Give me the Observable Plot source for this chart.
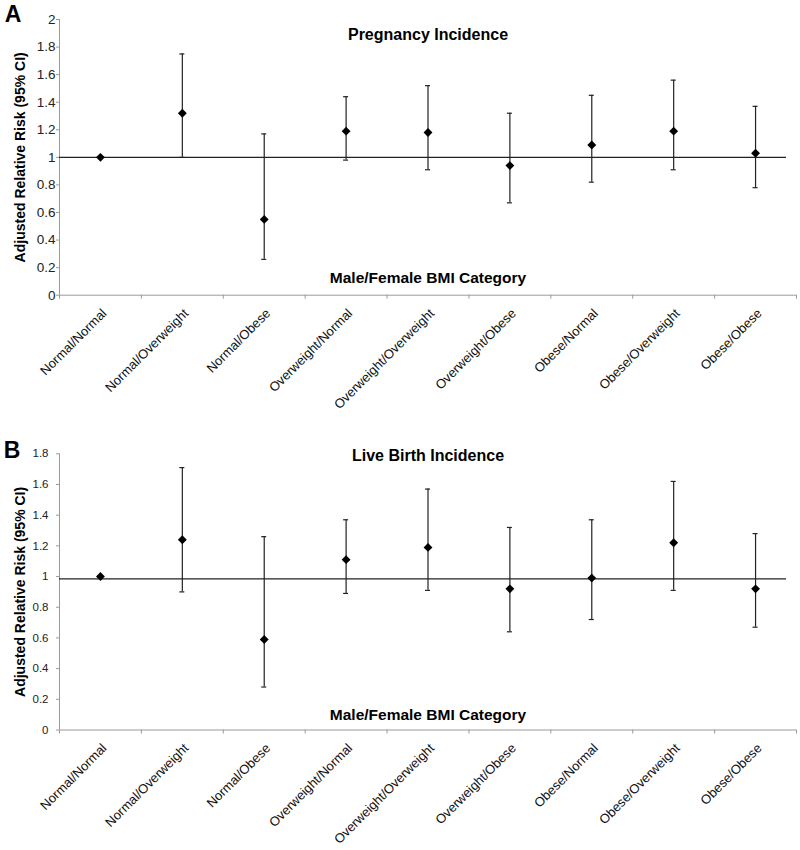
<!DOCTYPE html>
<html>
<head>
<meta charset="utf-8">
<script src="https://cdn.jsdelivr.net/npm/d3@7"></script>
<script src="https://cdn.jsdelivr.net/npm/@observablehq/plot@0.6"></script>
<style>
  html, body { margin: 0; padding: 0; background: #fff; }
  #chart svg { display: block; }
</style>
</head>
<body>
<div id="chart"></div>
<script>
// ---- data ----
const categories = [
  "Normal/Normal", "Normal/Overweight", "Normal/Obese",
  "Overweight/Normal", "Overweight/Overweight", "Overweight/Obese",
  "Obese/Normal", "Obese/Overweight", "Obese/Obese"
];
// Panel A: Pregnancy incidence
const pregRR = [1.00, 1.32, 0.55, 1.19, 1.18, 0.94, 1.09, 1.19, 1.03];
const pregLo = [null, 1.00, 0.26, 0.98, 0.91, 0.67, 0.82, 0.91, 0.78];
const pregHi = [null, 1.75, 1.17, 1.44, 1.52, 1.32, 1.45, 1.56, 1.37];
const pregRef = 1.0;
const pregTicks = [0, 0.2, 0.4, 0.6, 0.8, 1, 1.2, 1.4, 1.6, 1.8, 2];
// Panel B: Live birth incidence
const birthRR = [1.00, 1.24, 0.59, 1.11, 1.19, 0.92, 0.99, 1.22, 0.92];
const birthLo = [null, 0.90, 0.28, 0.89, 0.91, 0.64, 0.72, 0.91, 0.67];
const birthHi = [null, 1.71, 1.26, 1.37, 1.57, 1.32, 1.37, 1.62, 1.28];
const birthRef = 0.985;
const birthTicks = [0, 0.2, 0.4, 0.6, 0.8, 1, 1.2, 1.4, 1.6, 1.8];

const boundaries = d3.range(categories.length + 1);
const FONT = "'Liberation Sans', Arial, sans-serif";
const fmt = d => String(+d.toFixed(1));

function panel({letter, title, rr, lo, hi, ref, ticks, height, marginTop, marginBottom,
                tickFont, tickPad, titleDy, xTitleDy, letterDx, letterDy}) {
  const rows = categories.map((c, i) => ({cat: c, pos: i + 0.5, rr: rr[i], lo: lo[i], hi: hi[i]}));
  const ci = rows.filter(d => d.lo != null);
  return Plot.plot({
    width: 800,
    height,
    marginTop,
    marginBottom,
    marginLeft: 59,
    marginRight: 4,
    x: {domain: [0, categories.length], axis: null},
    y: {domain: [0, d3.max(ticks)], axis: null},
    style: {fontFamily: FONT, background: "#fff", overflow: "visible"},
    marks: [
      // axes lines
      Plot.ruleX([0], {stroke: "#9a9a9a", strokeWidth: 1}),
      Plot.ruleY([0], {stroke: "#9a9a9a", strokeWidth: 1}),
      // y ticks + labels
      Plot.ruleY(ticks, {y: d => d, x1: 0, x2: 0, insetLeft: -3, stroke: "#9a9a9a"}),
      Plot.text(ticks, {x: 0, y: d => d, text: fmt, textAnchor: "end", dx: -(3 + tickPad),
        fontSize: tickFont, fill: "#222"}),
      // x ticks at category boundaries
      Plot.ruleX(boundaries, {x: d => d, y1: 0, y2: 0, insetBottom: -4, stroke: "#9a9a9a"}),
      // x category labels
      Plot.text(rows, {x: "pos", y: 0, text: "cat", rotate: -45, textAnchor: "end",
        lineAnchor: "middle", dx: 4, dy: 16, fontSize: 13, fill: "#111"}),
      // reference line
      Plot.ruleY([ref], {stroke: "#222", strokeWidth: 1.4, insetRight: 10}),
      // confidence intervals
      Plot.ruleX(ci, {x: "pos", y1: "lo", y2: "hi", stroke: "#222", strokeWidth: 1.2}),
      Plot.ruleY(ci, {y: "hi", x1: "pos", x2: "pos", insetLeft: -2.5, insetRight: -2.5, stroke: "#222", strokeWidth: 1.2}),
      Plot.ruleY(ci, {y: "lo", x1: "pos", x2: "pos", insetLeft: -2.5, insetRight: -2.5, stroke: "#222", strokeWidth: 1.2}),
      // point estimates
      Plot.dot(rows, {x: "pos", y: "rr", symbol: "diamond2", r: 4, fill: "#000", stroke: "none"}),
      // titles
      Plot.text([title], {frameAnchor: "top", dy: titleDy, lineAnchor: "middle",
        fontSize: 16, fontWeight: "bold", fill: "#000"}),
      Plot.text(["Male/Female BMI Category"], {frameAnchor: "bottom", dy: xTitleDy, lineAnchor: "middle",
        fontSize: 15.5, fontWeight: "bold", fill: "#000"}),
      Plot.text(["Adjusted Relative Risk (95% CI)"], {frameAnchor: "left", rotate: -90, dx: -39,
        lineAnchor: "middle", textAnchor: "middle", fontSize: 14, fontWeight: "bold", fill: "#000"}),
      Plot.text([letter], {frameAnchor: "top-left", dx: letterDx, dy: letterDy, textAnchor: "middle",
        lineAnchor: "middle", fontSize: 23, fontWeight: "bold", fill: "#000"})
    ]
  });
}

const chart = document.getElementById("chart");
chart.append(panel({
  letter: "A", title: "Pregnancy Incidence", rr: pregRR, lo: pregLo, hi: pregHi, ref: pregRef,
  ticks: pregTicks, height: 430, marginTop: 19, marginBottom: 135.3,
  tickFont: 13.5, tickPad: 1, titleDy: 15.5, xTitleDy: -17, letterDx: -46.5, letterDy: -5
}));
chart.append(panel({
  letter: "B", title: "Live Birth Incidence", rr: birthRR, lo: birthLo, hi: birthHi, ref: birthRef,
  ticks: birthTicks, height: 420, marginTop: 23.3, marginBottom: 120.5,
  tickFont: 11.5, tickPad: 8, titleDy: 2, xTitleDy: -15, letterDx: -47.5, letterDy: -3
}));
</script>
</body>
</html>
